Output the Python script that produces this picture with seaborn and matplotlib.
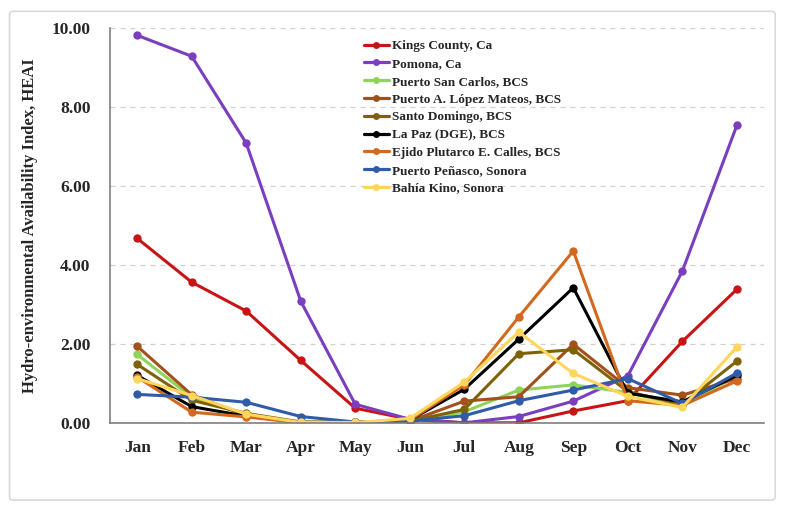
import numpy as np
import pandas as pd
import matplotlib
matplotlib.use('Agg')
import matplotlib.pyplot as plt
from matplotlib.patches import FancyBboxPatch
import seaborn as sns

months = ['Jan', 'Feb', 'Mar', 'Apr', 'May', 'Jun', 'Jul', 'Aug', 'Sep', 'Oct', 'Nov', 'Dec']

# HEAI values per site
kings_county = [4.68, 3.57, 2.84, 1.59, 0.38, 0.10, 0.01, 0.01, 0.31, 0.57, 2.07, 3.39]
pomona = [9.82, 9.29, 7.09, 3.09, 0.48, 0.10, 0.01, 0.17, 0.56, 1.20, 3.85, 7.54]
puerto_san_carlos = [1.74, 0.66, 0.22, 0.03, 0.02, 0.03, 0.29, 0.84, 0.97, 0.78, 0.45, 1.20]
lopez_mateos = [1.95, 0.72, 0.20, 0.02, 0.02, 0.05, 0.56, 0.67, 2.00, 0.90, 0.71, 1.13]
santo_domingo = [1.49, 0.58, 0.25, 0.03, 0.02, 0.05, 0.35, 1.76, 1.86, 0.80, 0.48, 1.57]
la_paz = [1.21, 0.42, 0.18, 0.02, 0.02, 0.08, 0.86, 2.13, 3.43, 0.76, 0.54, 1.21]
ejido_calles = [1.17, 0.28, 0.16, 0.01, 0.02, 0.08, 0.97, 2.69, 4.36, 0.57, 0.45, 1.07]
puerto_penasco = [0.73, 0.66, 0.53, 0.17, 0.03, 0.05, 0.19, 0.57, 0.84, 1.13, 0.50, 1.27]
bahia_kino = [1.13, 0.70, 0.23, 0.02, 0.02, 0.12, 1.04, 2.31, 1.26, 0.68, 0.40, 1.93]

sites = ['Kings County, Ca', 'Pomona, Ca', 'Puerto San Carlos, BCS',
         'Puerto A. López Mateos, BCS', 'Santo Domingo, BCS', 'La Paz (DGE), BCS',
         'Ejido Plutarco E. Calles, BCS', 'Puerto Peñasco, Sonora', 'Bahía Kino, Sonora']
series = [kings_county, pomona, puerto_san_carlos, lopez_mateos, santo_domingo,
          la_paz, ejido_calles, puerto_penasco, bahia_kino]
colors = ['#C81414', '#7A3EBE', '#8FD45A', '#A4501A', '#7F6208',
          '#000000', '#D2691E', '#2F5BA8', '#FFD65C']

rows = []
for site, vals in zip(sites, series):
    for i, v in enumerate(vals):
        rows.append({'site': site, 'month': i, 'heai': v})
df = pd.DataFrame(rows)

sns.set_style('white')
plt.rcParams['font.family'] = ['Liberation Serif', 'DejaVu Serif']
plt.rcParams['font.weight'] = 'bold'

fig = plt.figure(figsize=(7.91, 5.13), dpi=100)
ax = fig.add_axes([0.139, 0.175, 0.827, 0.770])

# outer frame around the chart
fig.patches.append(FancyBboxPatch((0.012, 0.025), 0.968, 0.953,
                                  boxstyle='round,pad=0,rounding_size=0.006',
                                  transform=fig.transFigure, fill=False,
                                  edgecolor='#D9D9D9', linewidth=1.2))

sns.lineplot(data=df, x='month', y='heai', hue='site', hue_order=sites,
             palette=colors, marker='o', markersize=6, markeredgewidth=0,
             linewidth=2.2, sort=False, ax=ax)

ax.set_xlim(-0.5, 11.5)
ax.set_ylim(0, 10)
ax.set_yticks(np.arange(0, 10.01, 2))
ax.set_yticklabels([f'{v:.2f}' for v in np.arange(0, 10.01, 2)])
ax.set_xticks(range(12))
ax.set_xticklabels(months)
ax.set_xticks(np.arange(-0.5, 12, 1), minor=True)
ax.tick_params(axis='x', which='major', length=0, pad=12, labelsize=12.5)
ax.tick_params(axis='x', which='minor', length=5, width=1, color='#7F7F7F', direction='out')
ax.tick_params(axis='y', length=0, pad=14, labelsize=12.5)
for lab in ax.get_xticklabels() + ax.get_yticklabels():
    lab.set_fontweight('bold')

ax.yaxis.grid(True, linestyle=(0, (4, 4)), color='#D0D0D0', linewidth=0.9)
ax.set_axisbelow(True)
sns.despine(ax=ax)
for side in ['left', 'bottom']:
    ax.spines[side].set_color('#7F7F7F')
    ax.spines[side].set_linewidth(1.2)

ax.set_xlabel('')
ax.set_ylabel('Hydro-environmental Availability Index, HEAI', fontsize=12,
              fontweight='bold', labelpad=10)

leg = ax.legend(loc='upper left', bbox_to_anchor=(0.37, 1.0), frameon=False,
                handlelength=1.9, handletextpad=0.2, labelspacing=0.42,
                prop={'weight': 'bold', 'size': 9.5})
for h in leg.legend_handles:
    h.set_linewidth(2.3)
    h.set_markersize(5)

fig.savefig('out.png', dpi=100)
